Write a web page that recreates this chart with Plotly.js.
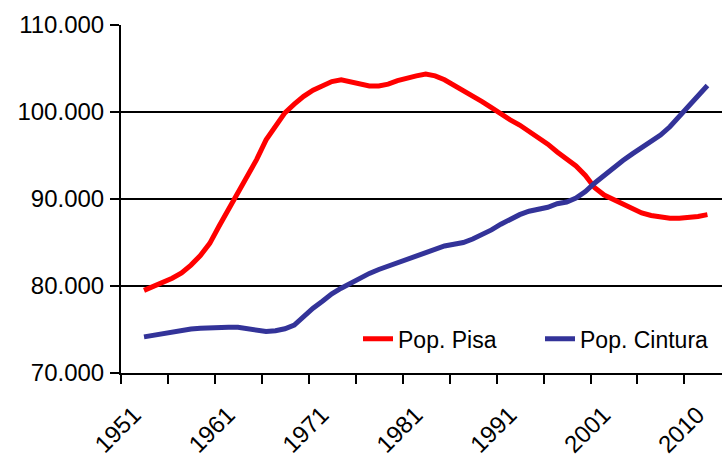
<!DOCTYPE html>
<html>
<head>
<meta charset="utf-8">
<script src="https://cdn.plot.ly/plotly-3.0.1.min.js"></script>
<style>html,body{margin:0;padding:0;background:#fff;}#chart{width:722px;height:459px;}</style>
</head>
<body>
<div id="chart"></div>
<script>
// Position of each annual observation along the category axis (0 = first year)
const obsIndex = Array.from({length: 61}, (_, i) => i);

// Tick labels shown every ten observations
const labelIndex = [0, 10, 20, 30, 40, 50, 60];
const labelText = ['1951', '1961', '1971', '1981', '1991', '2001', '2010'];

// Pop. Pisa (red)
const popPisa = [
  79500, 79950, 80350, 80900, 81500, 82400, 83500, 84900, 86900, 88800,
  90550, 92500, 94550, 96800, 98400, 99900, 100900, 101800, 102500, 103050,
  103500, 103700, 103450, 103150, 103000, 103000, 103200, 103600, 103950, 104150,
  104350, 104150, 103700, 103100, 102550, 101900, 101200, 100500, 99750, 99100,
  98500, 97800, 97100, 96300, 95400, 94600, 93800, 92700, 91300, 90450,
  89900, 89350, 88800, 88400, 88100, 87900, 87800, 87800, 87850, 88000,
  88200
];

// Pop. Cintura (blue)
const popCintura = [
  74150, 74350, 74570, 74750, 74920, 75050, 75150, 75230, 75250, 75250,
  75250, 75100, 74900, 74780, 74850, 75080, 75500, 76500, 77450, 78250,
  79100, 79750, 80350, 80950, 81450, 81900, 82300, 82700, 83100, 83500,
  83900, 84300, 84600, 84800, 85000, 85400, 85900, 86450, 87100, 87700,
  88200, 88600, 88850, 89050, 89450, 89650, 90100, 90850, 91840, 92760,
  93620, 94420, 95180, 95940, 96580, 97350, 98300, 99450, 100650, 101850,
  103050
];

const FONT = '"Liberation Sans", Arial, sans-serif';
const xRange = [-2.45, 61.55];

const traces = [
  {
    x: obsIndex, y: popPisa, name: 'Pop. Pisa', type: 'scatter', mode: 'lines',
    line: {color: '#FF0000', width: 5}, xaxis: 'x', yaxis: 'y'
  },
  {
    x: obsIndex, y: popCintura, name: 'Pop. Cintura', type: 'scatter', mode: 'lines',
    line: {color: '#333399', width: 5}, xaxis: 'x2', yaxis: 'y'
  }
];

const layout = {
  width: 722, height: 459,
  margin: {l: 121, r: 0, t: 25, b: 86},
  paper_bgcolor: '#ffffff', plot_bgcolor: '#ffffff',
  separators: ',.',
  font: {family: FONT, size: 23, color: '#000000'},
  showlegend: true,
  legend: {
    orientation: 'h', x: 1.0, xanchor: 'right', y: 0.098, yanchor: 'middle',
    bgcolor: 'rgba(0,0,0,0)', font: {family: FONT, size: 23, color: '#000'},
    traceorder: 'normal', itemwidth: 30, entrywidth: 137, entrywidthmode: 'pixels'
  },
  xaxis: {
    range: xRange, tickmode: 'linear', tick0: -2.45, dtick: 5,
    ticks: 'outside', ticklen: 9, tickwidth: 2, tickcolor: '#000',
    showticklabels: false, showline: true, linecolor: '#000', linewidth: 2,
    showgrid: false, zeroline: false, fixedrange: true
  },
  xaxis2: {
    overlaying: 'x', anchor: 'y', side: 'bottom', range: xRange,
    tickmode: 'array', tickvals: labelIndex, ticktext: labelText,
    ticks: '', tickangle: -45, ticklabelstandoff: 22, ticklabelshift: -10,
    tickfont: {family: FONT, size: 24, color: '#000'},
    showline: false, showgrid: false, zeroline: false
  },
  yaxis: {
    range: [70000, 110000], tickmode: 'linear', tick0: 70000, dtick: 10000,
    tickformat: ',.0f', ticks: 'outside', ticklen: 9, tickwidth: 2, tickcolor: '#000',
    ticklabelstandoff: 1,
    tickfont: {family: FONT, size: 24, color: '#000'},
    showline: true, linecolor: '#000', linewidth: 2,
    showgrid: true, gridcolor: '#000', gridwidth: 2, zeroline: false
  }
};

Plotly.newPlot('chart', traces, layout, {displayModeBar: false, staticPlot: true});
</script>
</body>
</html>
